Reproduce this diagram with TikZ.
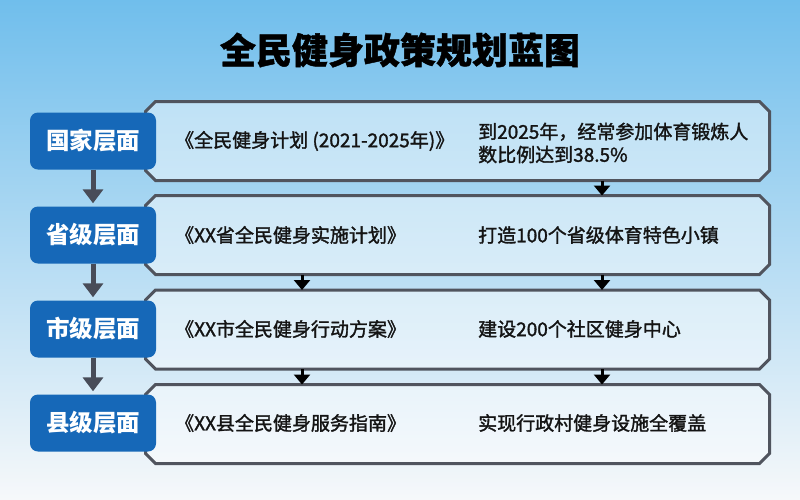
\documentclass[tikz,border=0pt]{standalone}
\usepackage{fontspec}
\setmainfont{Noto Sans CJK SC}
\newfontfamily\cjkmed[FakeBold=1.6]{Noto Sans CJK SC}
\newfontfamily\cjkheavy[BoldFeatures={FakeBold=1.2}]{Noto Sans CJK SC}
\usetikzlibrary{arrows.meta,calc}
\definecolor{bgtop}{RGB}{112,190,236}
\definecolor{bgmid}{RGB}{200,228,245}
\definecolor{bgbot}{RGB}{246,248,250}
\definecolor{bluebox}{RGB}{22,104,184}
\definecolor{panelline}{RGB}{80,84,94}
\definecolor{grayarrow}{RGB}{72,76,88}
\definecolor{textdark}{RGB}{20,20,20}
\tikzset{
  levelbox/.style={fill=bluebox, rounded corners=8pt, minimum width=126pt, minimum height=57pt,
    text=white, font=\fontsize{23.5}{27}\selectfont\bfseries, inner sep=0pt},
  panelline/.style={draw=panelline, line width=3pt, line join=miter, fill=white, fill opacity=0.45, draw opacity=1},
  panelbox/.style={minimum width=621pt, minimum height=76pt, inner sep=0pt, outer sep=1.5pt},
  ptext/.style={anchor=west, font=\cjkmed\fontsize{19}{23}\selectfont, text=textdark, inner sep=0pt, align=left},
  levelarrow/.style={draw=grayarrow, line width=5pt, -{Triangle[width=20pt,length=14pt]}, shorten >=3pt},
  steparrow/.style={draw=black, line width=3pt, -{Triangle[width=16pt,length=10pt]}},
}
% panel outline: name, centre y
\newcommand{\mypanel}[2]{%
  \node[panelbox] (#1) at (457.5,#2) {};
  \draw[panelline] (#1.north west) ++(10,0) -- ($(#1.north east)+(-10,0)$) -- ($(#1.north east)+(0,10)$)
     -- ($(#1.south east)+(0,-10)$) -- ($(#1.south east)+(-10,0)$) -- ($(#1.south west)+(10,0)$)
     -- ($(#1.south west)+(0,-10)$) -- ($(#1.north west)+(0,10)$) -- cycle;
}
\begin{document}
\begin{tikzpicture}[x=1pt,y=-1pt]
\useasboundingbox (0,0) rectangle (800,499);
\shade[top color=bgtop, middle color=bgmid, bottom color=bgbot] (0,0) rectangle (800,499);

\node[font=\cjkheavy\bfseries\fontsize{36}{40}\selectfont, text=black] (title) at (400,50) {全民健身政策规划蓝图};

% panels
\mypanel{P1}{141}
\mypanel{P2}{235}
\mypanel{P3}{329.5}
\mypanel{P4}{424}

% level boxes
\node[levelbox] (L1) at (93,141) {国家层面};
\node[levelbox] (L2) at (93,235) {省级层面};
\node[levelbox] (L3) at (93,329) {市级层面};
\node[levelbox] (L4) at (93,423) {县级层面};

% arrows between levels
\draw[levelarrow] (L1) -- (L2);
\draw[levelarrow] (L2) -- (L3);
\draw[levelarrow] (L3) -- (L4);

% arrows between panels
\coordinate (cl) at (302,0);
\coordinate (cr) at (602,0);
\draw[steparrow] (P1.south -| cr) -- (P2.north -| cr);
\draw[steparrow] (P2.south -| cl) -- (P3.north -| cl);
\draw[steparrow] (P2.south -| cr) -- (P3.north -| cr);
\draw[steparrow] (P3.south -| cl) -- (P4.north -| cl);
\draw[steparrow] (P3.south -| cr) -- (P4.north -| cr);

% texts
\node[ptext] (t1a) at (175,141) {《全民健身计划 (2021-2025年)》};
\node[ptext] (t1b) at (478,143) {到2025年，经常参加体育锻炼人\\数比例达到38.5\%};
\node[ptext] (t2a) at (175,235) {《XX省全民健身实施计划》};
\node[ptext] (t2b) at (478,235) {打造100个省级体育特色小镇};
\node[ptext] (t3a) at (175,329) {《XX市全民健身行动方案》};
\node[ptext] (t3b) at (478,329) {建设200个社区健身中心};
\node[ptext] (t4a) at (175,423) {《XX县全民健身服务指南》};
\node[ptext] (t4b) at (478,423) {实现行政村健身设施全覆盖};
\end{tikzpicture}
\end{document}
